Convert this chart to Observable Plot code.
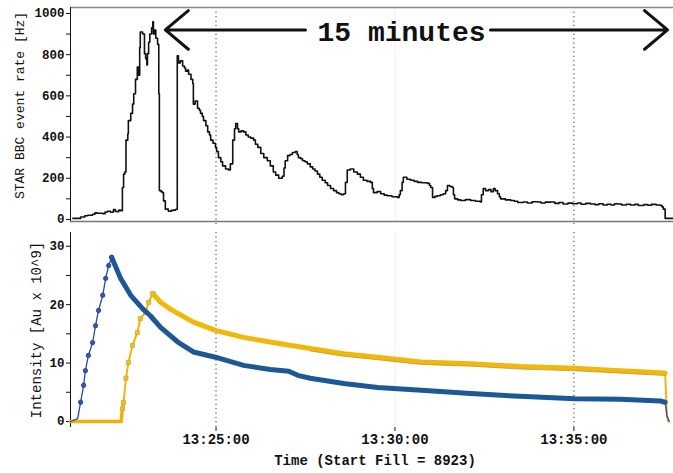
<!DOCTYPE html>
<html><head><meta charset="utf-8">
<script src="https://cdn.jsdelivr.net/npm/d3@7"></script>
<script src="https://cdn.jsdelivr.net/npm/@observablehq/plot@0.6"></script>
<style>
html,body{margin:0;padding:0;background:#fff;}
#chart{width:673px;height:473px;overflow:hidden;}
#chart svg{display:block;}
</style></head><body><div id="chart"></div>
<script>
// ---- data (times are seconds after startClock) ----
const startClock = "13:20:00";
const xTickLabels = ["13:25:00", "13:30:00", "13:35:00"];
const dottedGridLabels = ["13:25:00", "13:35:00"];
const faintGridLabels = ["13:30:00"];
const xDomainSec = [56, 1067];

const rateSec = [60,73,80,85,93,97,101,110,114,118,123,128,131,133,137,140,143,145,147,149,152,153,157,160,162,165,168,170,172,173,177,180,182,184,185,187,189,192,194,195,197,199,202,204,205,208,210,212,215,220,225,229,232,234,235,237,240,244,247,249,252,254,258,261,262,265,269,272,274,277,279,283,286,289,291,295,299,301,304,308,311,316,321,324,328,331,333,336,338,342,346,350,354,358,363,366,370,375,380,386,391,396,400,405,411,414,416,420,424,428,433,436,438,442,445,449,453,458,462,466,470,474,478,483,487,492,497,502,506,510,514,517,520,525,531,537,542,547,553,559,562,564,570,576,582,587,595,604,607,609,612,614,620,626,632,638,645,654,658,660,663,667,671,676,681,685,688,692,696,698,700,705,710,718,727,735,743,745,748,752,757,761,765,768,772,775,777,785,794,800,806,815,822,830,839,845,852,861,868,875,882,890,898,906,912,920,928,935,942,949,956,962,968,973,980,988,995,1002,1008,1017,1024,1030,1038,1045,1048,1050,1053,1067];
const rateHz = [5,12,18,20,25,32,30,28,36,40,35,48,40,38,46,42,155,220,230,385,415,480,515,560,610,680,740,700,835,910,900,805,780,750,805,860,900,930,960,900,920,880,850,610,140,135,130,90,50,40,44,45,48,50,795,760,770,745,735,720,725,705,680,660,560,575,540,530,515,500,480,455,425,410,385,370,350,330,300,280,260,245,240,270,385,440,465,440,425,430,425,410,400,395,385,365,350,320,300,285,260,230,215,200,210,250,285,310,315,325,330,315,300,295,285,280,270,255,245,235,220,205,190,178,165,150,140,130,125,120,125,180,240,245,230,220,205,190,185,180,150,130,135,125,118,115,110,107,120,140,180,205,195,190,185,180,178,175,165,155,107,112,115,120,125,140,165,160,155,120,100,95,92,96,92,88,85,120,150,140,145,135,150,140,125,110,100,95,92,88,82,85,80,86,85,80,84,85,78,82,75,79,76,80,74,78,75,72,76,70,74,70,76,75,70,74,70,73,68,72,69,73,70,68,60,50,5,5];

const blueSec = [56,68,73,78,81,86,93,98,103,110,115,120,125,140,157,178,190,207,236,262,299,346,391,422,437,458,514,571,638,727,810,902,978,1045,1053,1056,1060];
const blueIntensity = [0,0.5,3.3,6.2,8.7,11.3,13.5,16.4,19,21.6,24.5,26.7,28.1,24.5,21.6,19.2,18.1,16.1,13.6,11.9,11.0,9.6,8.9,8.6,7.9,7.4,6.5,5.8,5.4,4.8,4.3,3.9,3.8,3.5,3.3,1.0,0];
const bluePeakSec = 125;

const yellowSec = [56,141,143,145,149,153,160,168,173,182,187,194,202,207,224,236,262,299,346,403,458,514,571,643,727,810,902,978,1053,1056,1058];
const yellowIntensity = [0,0,2.2,3.3,7.4,10.1,13,15.2,17.6,18.7,20.4,21.9,21.0,20.4,19.2,18.5,17.0,15.6,14.4,13.4,12.5,11.6,11.0,10.2,9.9,9.4,9.1,8.7,8.3,1,0];
const yellowPeakSec = 194;

const rateTicks = d3.range(0, 1001, 100);
const intensityTicks = d3.range(0, 31, 5);

const arrowStartSec = [450, 760];
const arrowEndSec = [215, 1057];
const arrowLevel = 920;
const annotationText = "15 minutes";
const annotationSec = 611;
const annotationLevel = 912;

const rateLabel = "STAR BBC event rate [Hz]";
const intensityLabel = "Intensity [Au x 10^9]";
const timeLabel = "Time (Start Fill = 8923)";

// ---- helpers ----
function clock(str) { const [h, m, s] = str.split(":").map(Number); return new Date(Date.UTC(2000, 0, 1, h, m, s)); }
const t0 = clock(startClock);
const at = s => new Date(+t0 + s * 1000);
const fmt = d3.utcFormat("%H:%M:%S");
const mono = "'Liberation Mono', 'DejaVu Sans Mono', monospace";
const xDomain = xDomainSec.map(at);

const rate = rateSec.map((s, i) => ({t: at(s), v: rateHz[i]}));
const blue = blueSec.map((s, i) => ({s, t: at(s), v: blueIntensity[i]}));
const yellow = yellowSec.map((s, i) => ({s, t: at(s), v: yellowIntensity[i]}));
const arrows = arrowStartSec.map((s, i) => ({x1: at(s), x2: at(arrowEndSec[i]), y: arrowLevel}));

const topPlot = Plot.plot({
  width: 673, height: 228,
  marginLeft: 70, marginRight: 0, marginTop: 7, marginBottom: 7,
  style: {fontFamily: mono, fontSize: "12px", background: "#fff", color: "#111", overflow: "visible"},
  x: {type: "utc", domain: xDomain, axis: null},
  y: {domain: [-10, 1029], label: null},
  marks: [
    Plot.ruleX(faintGridLabels.map(clock), {stroke: "#f4f4f4", strokeWidth: 1.5}),
    Plot.ruleX(dottedGridLabels.map(clock), {y1: -25, y2: 1010, stroke: "#333", strokeDasharray: "1.2,3.2"}),
    Plot.ruleY([-10], {stroke: "#777", strokeWidth: 1.5}),
    Plot.ruleY([1029], {stroke: "#888", strokeWidth: 1.5}),
    Plot.ruleX([xDomain[0]], {stroke: "#111"}),
    Plot.axisY({ticks: rateTicks, tickSize: 4, tickPadding: 2, label: null,
      tickFormat: d => d % 200 === 0 ? String(d) : "", fontWeight: "bold", fontSize: 12.5}),
    Plot.lineY(rate, {x: "t", y: "v", curve: "step-after", stroke: "#111", strokeWidth: 1.6}),
    Plot.arrow(arrows, {x1: "x1", x2: "x2", y1: "y", y2: "y", stroke: "#111", strokeWidth: 3, headLength: 15, headAngle: 80}),
    Plot.text([{t: at(annotationSec), v: annotationLevel, label: annotationText}],
      {x: "t", y: "v", text: "label", fontSize: 28, fontWeight: "bold", fill: "#111"}),
    Plot.text([rateLabel], {text: d => d, frameAnchor: "left", textAnchor: "middle", rotate: -90, dx: -51, dy: -9, fontSize: 13, fill: "#111"})
  ]
});

const bottomPlot = Plot.plot({
  width: 673, height: 245,
  marginLeft: 70, marginRight: 0, marginTop: 4, marginBottom: 46,
  style: {fontFamily: mono, fontSize: "12px", background: "#fff", color: "#111", overflow: "visible"},
  x: {type: "utc", domain: xDomain, label: null},
  y: {domain: [-1.03, 32.35], label: null},
  marks: [
    Plot.ruleX(faintGridLabels.map(clock), {stroke: "#f4f4f4", strokeWidth: 1.5}),
    Plot.ruleX(dottedGridLabels.map(clock), {stroke: "#333", strokeDasharray: "1.2,3.2"}),
    Plot.ruleX([xDomain[0]], {stroke: "#111"}),
    Plot.axisY({ticks: intensityTicks, tickSize: 4, tickPadding: 2, label: null,
      tickFormat: d => d % 10 === 0 ? String(d) : "", fontWeight: "bold", fontSize: 12.5}),
    Plot.axisX({ticks: xTickLabels.map(clock), tickFormat: fmt, tickSize: 4, tickPadding: 3, label: null, fontSize: 14, fontWeight: "bold"}),
    // yellow beam
    Plot.lineY(yellow, {x: "t", y: "v", stroke: "#efb60c", strokeWidth: 2}),
    Plot.lineY(yellow.filter(d => d.s >= yellowPeakSec - 1 && d.s <= 1053), {x: "t", y: "v", stroke: "#f0b80a", strokeWidth: 5}),
    Plot.lineY(yellow.filter(d => d.s >= 440 && d.s <= 1053), {x: "t", y: "v", dy: 2.5, stroke: "#b9903a", strokeWidth: 1, strokeOpacity: 0.7}),
    Plot.lineY(yellow.filter(d => d.s <= 145), {x: "t", y: "v", stroke: "#eeb010", strokeWidth: 3.5}),
    Plot.dot(yellow.filter(d => d.s > 141 && d.s < yellowPeakSec + 1), {x: "t", y: "v", symbol: "square", r: 2.3, fill: "#e8bf30", stroke: "#d9a820", strokeWidth: 0.8}),
    // blue beam
    Plot.lineY(blue, {x: "t", y: "v", stroke: "#2a4aa3", strokeWidth: 1.3}),
    Plot.lineY(blue.filter(d => d.s >= bluePeakSec && d.s <= 1053), {x: "t", y: "v", stroke: "#1d5896", strokeWidth: 5}),
    Plot.dot(blue.filter(d => d.s > 68 && d.s <= bluePeakSec), {x: "t", y: "v", r: 2.2, fill: "#3656b5", stroke: "#1f3a95", strokeWidth: 0.8}),
    Plot.text([timeLabel], {text: d => d, frameAnchor: "bottom", dx: 3, dy: 37, fontSize: 14, fontWeight: "bold", fill: "#111"}),
    Plot.text([intensityLabel], {text: d => d, frameAnchor: "left", textAnchor: "middle", rotate: -90, dx: -34, dy: 0, fontSize: 14, fill: "#111"})
  ]
});

const chart = document.getElementById("chart");
chart.appendChild(topPlot);
chart.appendChild(bottomPlot);
</script>
</body></html>
